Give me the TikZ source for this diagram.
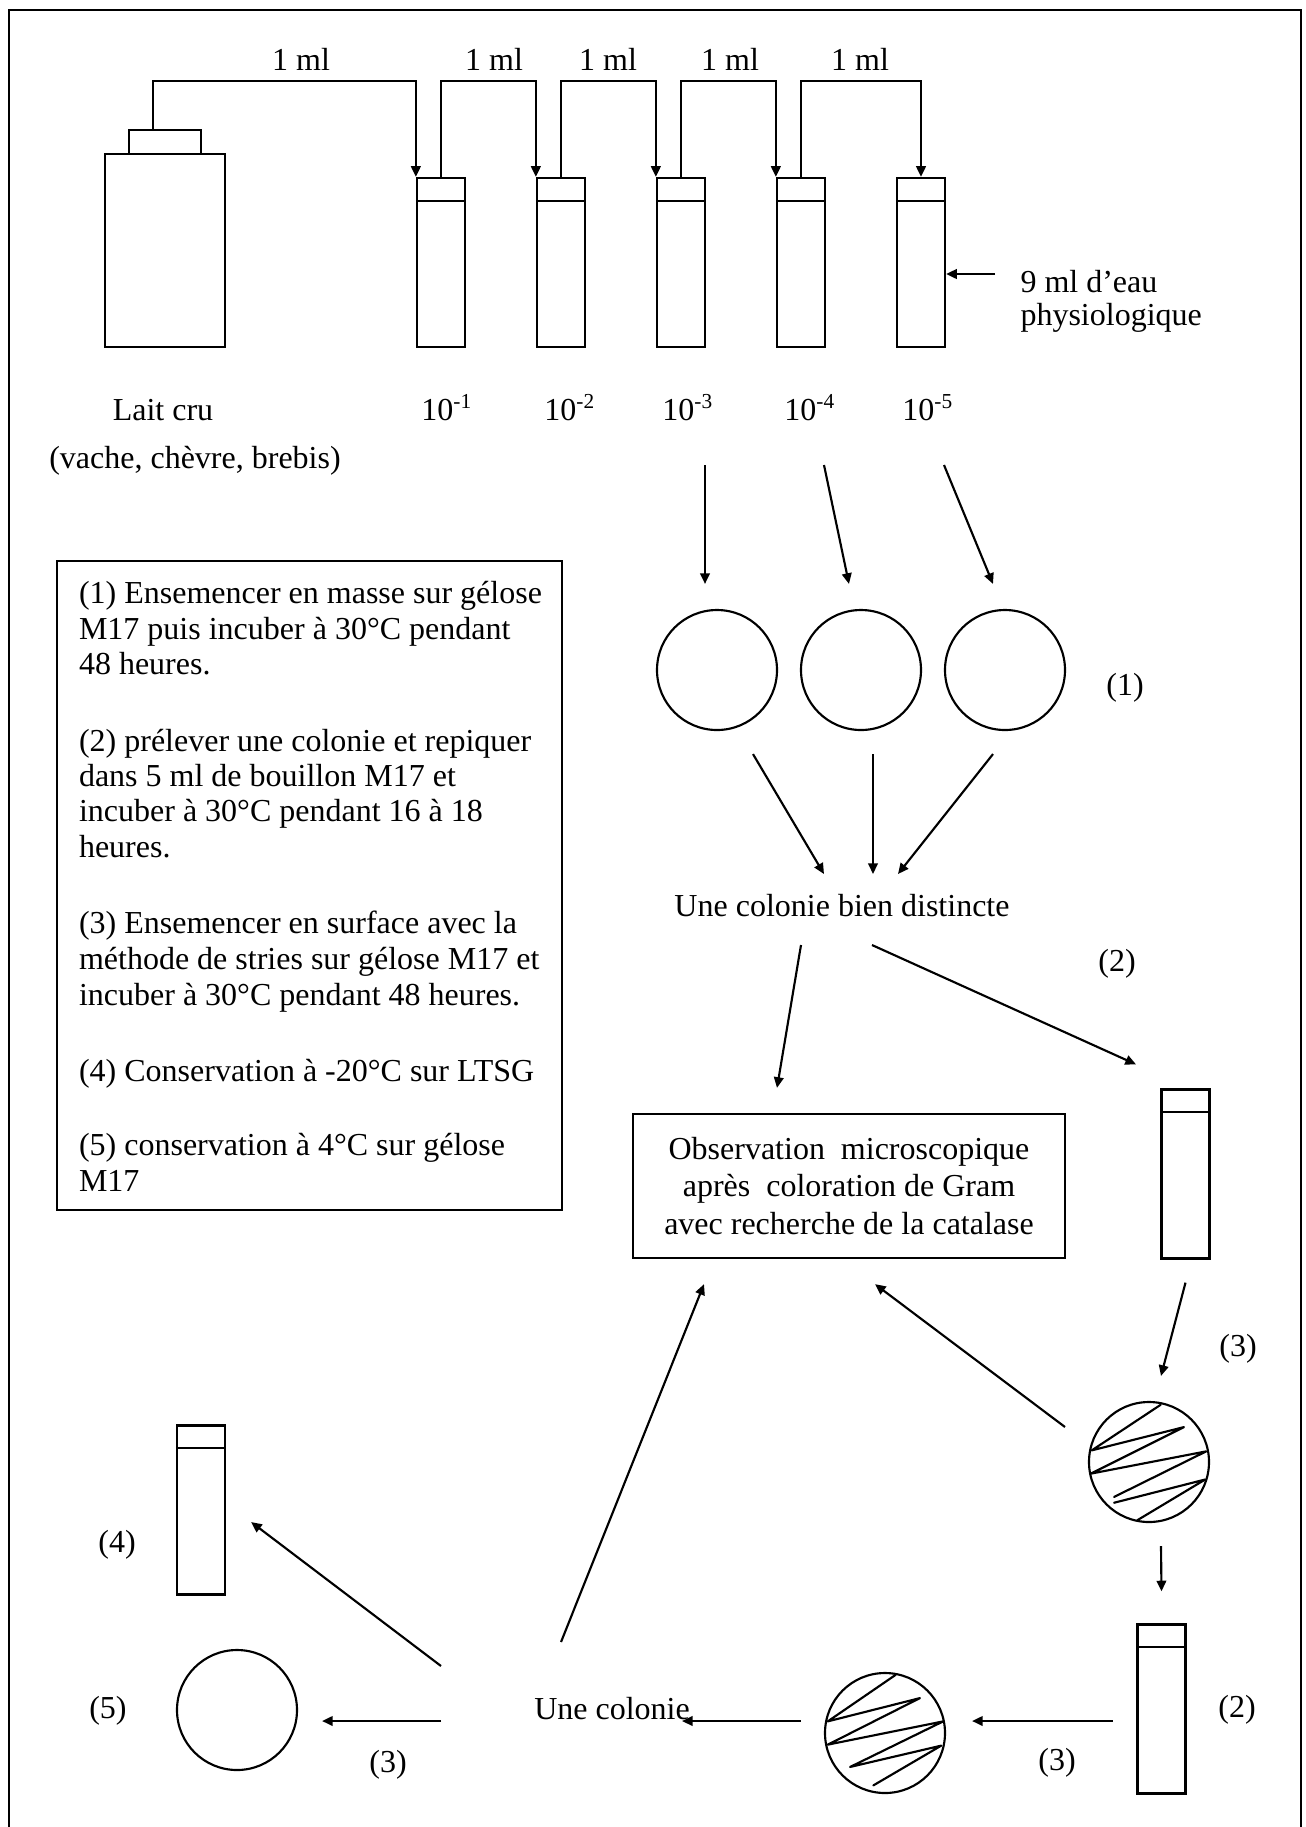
\documentclass[tikz,border=0pt]{standalone}
\usepackage{fontspec}
\setmainfont{Liberation Serif}
\usetikzlibrary{arrows.meta,calc}
\begin{document}
\begin{tikzpicture}[x=0.375pt,y=-0.375pt,
  every node/.style={font=\fontsize{12pt}{14.2pt}\selectfont},
  ln/.style={line width=0.8pt},
  streak/.style={line width=0.8pt,line join=round,line cap=round},
  arr/.style={line width=0.8pt,-{Triangle[length=4pt,width=3.6pt]}},
  tube/.style={draw,line width=0.85pt,rectangle,minimum width=18pt,minimum height=63.375pt,inner sep=0pt},
  plate/.style={draw,line width=0.8pt,circle,minimum size=45pt,inner sep=0pt},
  txt/.style={inner sep=0pt},
  boxed/.style={draw,line width=0.85pt,rectangle,inner sep=0pt}
]
\useasboundingbox (0,0) rectangle (1306,1827);
\draw[line width=0.9pt] (9,1827) -- (9,10) -- (1301,10) -- (1301,1827);

% bottle
\node[boxed,minimum width=45pt,minimum height=72.375pt] (lait) at (165,250.5) {};
\node[boxed,minimum width=27pt,minimum height=9pt] (cap) at (165,142) {};

% tubes
\foreach \i in {1,...,5} {
  \node[tube] (t\i) at ({441+120*(\i-1)},262.5) {};
  \draw[ln] ([yshift=-9pt]t\i.north west) -- ([yshift=-9pt]t\i.north east);
}

% transfer lines
\draw[arr] ([xshift=-4.5pt]cap.north) |- ($(t1.north west)+(0,-96)$) -- (t1.north west);
\foreach \a/\b in {1/2,2/3,3/4}
  \draw[arr] (t\a.north) |- ($(t\b.north west)+(0,-96)$) -- (t\b.north west);
\draw[arr] (t4.north) |- ($(t5.north)+(0,-96)$) -- (t5.north);

\node[txt,anchor=base] (ml1) at (301,70) {1 ml};
\node[txt,anchor=base] (ml2) at (494,70) {1 ml};
\node[txt,anchor=base] (ml3) at (608,70) {1 ml};
\node[txt,anchor=base] (ml4) at (730,70) {1 ml};
\node[txt,anchor=base] (ml5) at (860,70) {1 ml};

\node[txt,anchor=base] (d1) at (447,420) {10\textsuperscript{-1}};
\node[txt,anchor=base] (d2) at (570,420) {10\textsuperscript{-2}};
\node[txt,anchor=base] (d3) at (688,420) {10\textsuperscript{-3}};
\node[txt,anchor=base] (d4) at (810,420) {10\textsuperscript{-4}};
\node[txt,anchor=base] (d5) at (928,420) {10\textsuperscript{-5}};

\node[txt,anchor=base] (laitlbl) at (163,420) {Lait cru};
\node[txt,anchor=base] (laitsrc) at (195,468) {(vache, chèvre, brebis)};

\node[txt,anchor=base west] (eau1) at (1020,292) {9 ml d’eau};
\node[txt,anchor=base west] (eau2) at (1020,325) {physiologique};
\draw[arr] ($(eau1.base west)+(-25,-18)$) -- ($(t5.east)+(0,11.5)$);

% plates
\node[plate] (p1) at (717,670) {};
\node[plate] (p2) at (861,670) {};
\node[plate] (p3) at (1005,670) {};
\node[txt] (n1) at (1125,688) {(1)};

\draw[arr] ($(d3.base)+(17,45)$) -- ($(p1.north)+(-12,-25)$);
\draw[arr] ($(d4.base)+(14,45)$) -- ($(p2.north)+(-12,-25)$);
\draw[arr] ($(d5.base)+(16,45)$) -- ($(p3.north)+(-12,-25)$);

\node[txt,anchor=base] (ucbd) at (842,916) {Une colonie bien distincte};
\draw[arr] ($(p1.south)+(36,23)$) -- ($(ucbd.base)+(-18,-42)$);
\draw[arr] ($(p2.south)+(12,23)$) -- ($(ucbd.base)+(31,-42)$);
\draw[arr] ($(p3.south)+(-12,23)$) -- ($(ucbd.base)+(56,-42)$);
\node[txt] (n2a) at (1117,964) {(2)};

% observation box
\node[boxed,minimum width=162pt,minimum height=54pt,align=center] (obs) at (849,1186)
  {Observation\ \ microscopique\\après\ \ coloration de Gram\\avec recherche de la catalase};
\draw[arr] ($(ucbd.base)+(-41,29)$) -- ($(obs.north)+(-72,-25)$);

\node[tube] (tR) at (1185.5,1174) {};
\draw[ln] ([yshift=-9pt]tR.north west) -- ([yshift=-9pt]tR.north east);
\draw[arr] ($(ucbd.base)+(30,29)$) -- ($(tR.north)+(-49.5,-24)$);

\node[plate] (s1) at (1149,1462) {};
\begin{scope}[shift={(s1.center)},scale=0.97]
  \draw[streak] (12,-59) -- (-59,-12) -- (36,-36) -- (-60,12) -- (59,-11) -- (-36,36);
  \draw[streak] (-36,42) -- (58,18) -- (-12,60);
\end{scope}
\draw[arr] ($(tR.south)+(0,23)$) -- ($(s1.north)+(12,-25)$);
\node[txt] (n3a) at (1238,1349) {(3)};
\draw[arr] ($(s1.center)+(-84,-35)$) -- ($(obs.south)+(26,25)$);

\node[tube] (tB) at (1161.5,1709) {};
\draw[ln] ([yshift=-9pt]tB.north west) -- ([yshift=-9pt]tB.north east);
\draw[arr] ($(s1.south)+(12,23)$) -- ($(tB.north)+(0,-32)$);
\node[txt] (n2b) at (1237,1710) {(2)};

\node[plate] (s2) at (885,1733) {};
\begin{scope}[shift={(s2.center)},scale=0.97]
  \draw[streak] (11,-60) -- (-59,-12) -- (36,-36) -- (-59,12) -- (60,-12) -- (-36,35) -- (58,13) -- (-12,54);
\end{scope}
\draw[arr] ($(tB.west)+(-23.5,12)$) -- ($(s2.east)+(26,-12)$);
\node[txt] (n3b) at (1057,1763) {(3)};

\node[txt,anchor=base] (col) at (612,1719) {Une colonie};
\draw[arr] ($(s2.west)+(-23,-12)$) -- ($(col.base)+(70,2)$);
\draw[arr] ($(col.base)+(-51,-77)$) -- ($(obs.south)+(-145,25)$);

\node[tube] (tL) at (201,1510) {};
\draw[ln] ([yshift=-9pt]tL.north west) -- ([yshift=-9pt]tL.north east);
\draw[arr] ($(col.base)+(-171,-53)$) -- ($(tL.east)+(25,12)$);
\node[plate] (c5) at (237,1710) {};
\draw[arr] ($(col.base)+(-171,2)$) -- ($(c5.east)+(24,11)$);
\node[txt] (n3c) at (388,1765) {(3)};
\node[txt] (n4) at (117,1545) {(4)};
\node[txt] (n5) at (108,1711) {(5)};

% legend
\node[boxed,minimum width=189.375pt,minimum height=243.4pt] (leg) at (309.5,885.5) {};
\foreach \y/\t [count=\i] in {
  603/{(1) Ensemencer en masse sur gélose},
  639/{M17 puis incuber à 30°C pendant},
  674/{48 heures.},
  751/{(2) prélever une colonie et repiquer},
  786/{dans 5 ml de bouillon M17 et},
  821/{incuber à 30°C pendant 16 à 18},
  857/{heures.},
  933/{(3) Ensemencer en surface avec la},
  969/{méthode de stries sur gélose M17 et},
  1005/{incuber à 30°C pendant 48 heures.},
  1081/{(4) Conservation à -20°C sur LTSG},
  1155/{(5) conservation à 4°C sur gélose},
  1191/{M17}}
  \node[txt,anchor=base west] (leg\i) at (78.5,\y) {\t};
\end{tikzpicture}
\end{document}
